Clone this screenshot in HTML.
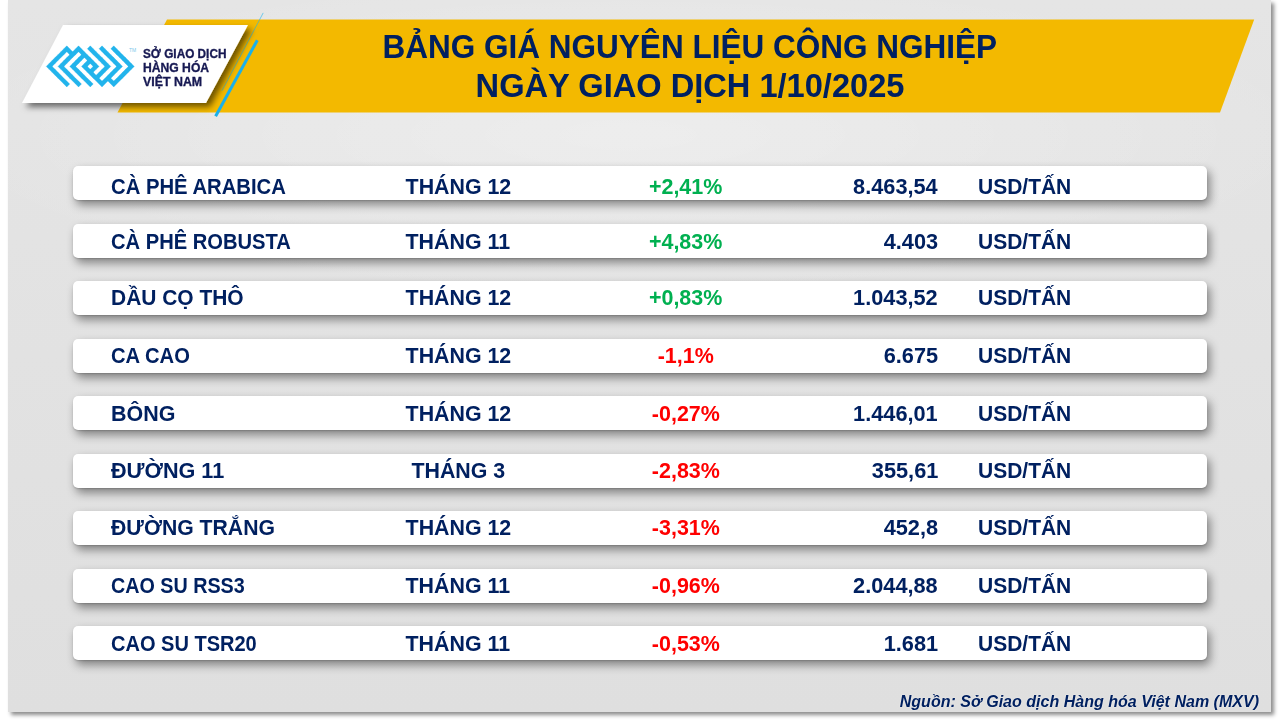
<!DOCTYPE html>
<html><head><meta charset="utf-8">
<style>
*{margin:0;padding:0;box-sizing:border-box}
html,body{width:1280px;height:720px;overflow:hidden;background:#fff}
body{position:relative;font-family:"Liberation Sans",sans-serif}
#panel{position:absolute;left:8px;top:0;width:1263px;height:712px;background:radial-gradient(ellipse 700px 160px at 620px 135px,rgba(255,255,255,.35),rgba(255,255,255,0)),linear-gradient(#e5e5e5,#dfdfdf);box-shadow:3px 3px 4px rgba(0,0,0,.45);overflow:hidden}
.abs{position:absolute}
.title{position:absolute;left:0;width:1380px;text-align:center;color:#002060;font-weight:bold;font-size:33px;white-space:nowrap;line-height:1}
.title span{display:inline-block;transform:scaleX(.955)}
.row{position:absolute;left:73px;width:1134px;height:34px;background:#fff;border-radius:5px;box-shadow:0 1px 1.5px rgba(0,0,0,.15),3px 5px 10px rgba(0,0,0,.42)}
.t{position:absolute;top:var(--d);line-height:34px;font-weight:bold;font-size:22px;color:#002060;white-space:nowrap}
.t span{display:inline-block}
.c1{left:38px}.c1 span{transform-origin:0 50%}
.c2{left:385px;width:0;display:flex;justify-content:center}.c2 span{transform:scaleX(.971)}
.c3{left:612.9px;width:0;display:flex;justify-content:center}.c3 span{transform:scaleX(.976)}
.c4{right:269px;text-align:right;transform:scaleX(.987);transform-origin:100% 50%}
.c5{left:904.8px;transform:scaleX(.954);transform-origin:0 50%}
.g{color:#00b050}.r{color:#ff0000}
.foot{position:absolute;right:21px;top:691.8px;text-shadow:0 0 1.5px rgba(255,255,255,.9);font-weight:bold;font-style:italic;font-size:17px;color:#002060;white-space:nowrap;transform:scaleX(.943);transform-origin:100% 50%}
.lt{position:absolute;left:143px;font-weight:bold;font-size:13px;color:#161852;white-space:nowrap;line-height:1;transform-origin:0 0;-webkit-text-stroke:.35px #161852}
</style></head>
<body>
<div id="panel"></div>
<svg class="abs" style="left:0;top:0" width="1280" height="130">
  <defs>
    <filter id="sh" x="-10%" y="-20%" width="130%" height="150%"><feDropShadow dx="4" dy="4" stdDeviation="3" flood-color="#000" flood-opacity=".55"/></filter>
  </defs>
  <polygon points="167,19.6 1254.2,19.6 1220,112.5 117.5,112.5" fill="#f3b900"/>
  <line x1="263.2" y1="12.9" x2="222" y2="90.7" stroke="#1fb5ec" stroke-opacity=".6" stroke-width="1"/>
  <polygon points="63,25 248,25 206,103 22,103" fill="#fff" filter="url(#sh)"/>
  <line x1="257.3" y1="40.3" x2="215.6" y2="116.2" stroke="#1ab0ea" stroke-width="3"/>
  <path fill="#22b4ec" stroke="#22b4ec" stroke-width=".07" stroke-linejoin="miter" transform="matrix(2.935 2.935 2.935 -2.935 46.25 66.4)" d="M0 0h1v1h-1zM0 1h1v1h-1zM0 2h1v1h-1zM0 3h1v1h-1zM0 4h1v1h-1zM0 5h1v1h-1zM0 6h1v1h-1zM1 0h1v1h-1zM1 6h1v1h-1zM2 0h1v1h-1zM2 2h1v1h-1zM2 3h1v1h-1zM2 4h1v1h-1zM2 5h1v1h-1zM2 6h1v1h-1zM2 7h1v1h-1zM2 8h1v1h-1zM3 0h1v1h-1zM3 2h1v1h-1zM3 8h1v1h-1zM4 0h1v1h-1zM4 2h1v1h-1zM4 4h1v1h-1zM4 5h1v1h-1zM4 6h1v1h-1zM4 7h1v1h-1zM4 8h1v1h-1zM4 10h1v1h-1zM5 0h1v1h-1zM5 2h1v1h-1zM5 4h1v1h-1zM5 8h1v1h-1zM5 10h1v1h-1zM6 0h1v1h-1zM6 2h1v1h-1zM6 4h1v1h-1zM6 6h1v1h-1zM6 7h1v1h-1zM6 8h1v1h-1zM6 10h1v1h-1zM6 12h1v1h-1zM7 2h1v1h-1zM7 4h1v1h-1zM7 6h1v1h-1zM7 8h1v1h-1zM7 10h1v1h-1zM7 12h1v1h-1zM8 2h1v1h-1zM8 4h1v1h-1zM8 6h1v1h-1zM8 7h1v1h-1zM8 8h1v1h-1zM8 10h1v1h-1zM8 12h1v1h-1zM8 14h1v1h-1zM9 4h1v1h-1zM9 6h1v1h-1zM9 10h1v1h-1zM9 12h1v1h-1zM9 14h1v1h-1zM10 4h1v1h-1zM10 6h1v1h-1zM10 7h1v1h-1zM10 8h1v1h-1zM10 9h1v1h-1zM10 10h1v1h-1zM10 12h1v1h-1zM10 14h1v1h-1zM11 6h1v1h-1zM11 12h1v1h-1zM11 14h1v1h-1zM12 6h1v1h-1zM12 7h1v1h-1zM12 8h1v1h-1zM12 9h1v1h-1zM12 10h1v1h-1zM12 11h1v1h-1zM12 12h1v1h-1zM12 14h1v1h-1zM13 8h1v1h-1zM13 14h1v1h-1zM14 8h1v1h-1zM14 9h1v1h-1zM14 10h1v1h-1zM14 11h1v1h-1zM14 12h1v1h-1zM14 13h1v1h-1zM14 14h1v1h-1z"/>
  <text x="129" y="52" font-family="Liberation Sans" font-size="5" fill="#7cc8ea">TM</text>
</svg>
<div class="lt" style="top:46.5px;left:143.1px;transform:scaleX(.907)">SỞ GIAO DỊCH</div>
<div class="lt" style="top:60.6px;left:143.1px;transform:scaleX(.934)">HÀNG HÓA</div>
<div class="lt" style="top:74.5px;left:143px;transform:scaleX(.952)">VIỆT NAM</div>
<div class="title" style="top:30px"><span>BẢNG GIÁ NGUYÊN LIỆU CÔNG NGHIỆP</span></div>
<div class="title" style="top:69px"><span style="transform:scaleX(.988)">NGÀY GIAO DỊCH 1/10/2025</span></div>

<div class="row" style="top:166px;--d:4.2px"><span class="t c1"><span style="transform:scaleX(.921)">CÀ PHÊ ARABICA</span></span><span class="t c2"><span>THÁNG 12</span></span><span class="t c3 g"><span>+2,41%</span></span><span class="t c4">8.463,54</span><span class="t c5">USD/TẤN</span></div>
<div class="row" style="top:224px;--d:1.2px"><span class="t c1"><span style="transform:scaleX(.916)">CÀ PHÊ ROBUSTA</span></span><span class="t c2"><span>THÁNG 11</span></span><span class="t c3 g"><span>+4,83%</span></span><span class="t c4">4.403</span><span class="t c5">USD/TẤN</span></div>
<div class="row" style="top:281px;--d:-0.1px"><span class="t c1"><span style="transform:scaleX(.952)">DẦU CỌ THÔ</span></span><span class="t c2"><span>THÁNG 12</span></span><span class="t c3 g"><span>+0,83%</span></span><span class="t c4">1.043,52</span><span class="t c5">USD/TẤN</span></div>
<div class="row" style="top:339px;--d:0.2px"><span class="t c1"><span style="transform:scaleX(.917)">CA CAO</span></span><span class="t c2"><span>THÁNG 12</span></span><span class="t c3 r"><span>-1,1%</span></span><span class="t c4">6.675</span><span class="t c5">USD/TẤN</span></div>
<div class="row" style="top:396px;--d:0.7px"><span class="t c1"><span style="transform:scaleX(.975)">BÔNG</span></span><span class="t c2"><span>THÁNG 12</span></span><span class="t c3 r"><span>-0,27%</span></span><span class="t c4">1.446,01</span><span class="t c5">USD/TẤN</span></div>
<div class="row" style="top:454px;--d:0.4px"><span class="t c1"><span style="transform:scaleX(.982)">ĐƯỜNG 11</span></span><span class="t c2"><span>THÁNG 3</span></span><span class="t c3 r"><span>-2,83%</span></span><span class="t c4">355,61</span><span class="t c5">USD/TẤN</span></div>
<div class="row" style="top:511px;--d:0px"><span class="t c1"><span style="transform:scaleX(.963)">ĐƯỜNG TRẮNG</span></span><span class="t c2"><span>THÁNG 12</span></span><span class="t c3 r"><span>-3,31%</span></span><span class="t c4">452,8</span><span class="t c5">USD/TẤN</span></div>
<div class="row" style="top:569px;--d:0.3px"><span class="t c1"><span style="transform:scaleX(.896)">CAO SU RSS3</span></span><span class="t c2"><span>THÁNG 11</span></span><span class="t c3 r"><span>-0,96%</span></span><span class="t c4">2.044,88</span><span class="t c5">USD/TẤN</span></div>
<div class="row" style="top:626px;--d:1.0px"><span class="t c1"><span style="transform:scaleX(.910)">CAO SU TSR20</span></span><span class="t c2"><span>THÁNG 11</span></span><span class="t c3 r"><span>-0,53%</span></span><span class="t c4">1.681</span><span class="t c5">USD/TẤN</span></div>

<div class="foot">Nguồn: Sở Giao dịch Hàng hóa Việt Nam (MXV)</div>
</body></html>
